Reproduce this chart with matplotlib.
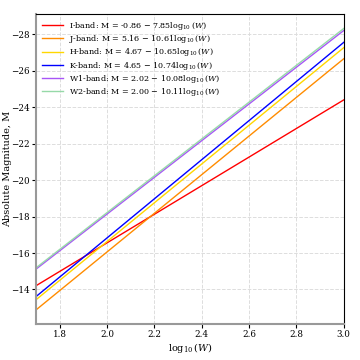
import numpy as np
import matplotlib
matplotlib.use('Agg')
import matplotlib.pyplot as plt

plt.rcParams['font.family'] = 'DejaVu Serif'
plt.rcParams['mathtext.fontset'] = 'dejavuserif'

# 밴드별 회귀식 M = a - b*log10(W)
bands = ['I', 'J', 'H', 'K', 'W1', 'W2']
intercepts = [-0.86, 5.16, 4.67, 4.65, 2.02, 2.00]
slopes = [7.85, 10.61, 10.65, 10.74, 10.08, 10.11]
colors = ['red', 'darkorange', 'gold', 'blue', '#a855f7', '#96d9a8']

logw = np.array([1.7, 3.0])

fig, ax = plt.subplots(figsize=(3.6, 3.6), dpi=100)
for band, a, b, c in zip(bands, intercepts, slopes, colors):
    label = r'%s-band: M = %.2f $-$ %.2f$\log_{10}(W)$' % (band, a, b)
    ax.plot(logw, a - b * logw, color=c, lw=1.0, label=label)

ax.set_xlim(1.7, 3.0)
ax.invert_yaxis()
ax.set_xlabel(r'$\log_{10}(W)$', fontsize=7, labelpad=1)
ax.set_ylabel('Absolute Magnitude, M', fontsize=7)
ax.yaxis.set_label_coords(-0.077, 0.5)
ax.tick_params(labelsize=6.3, pad=1.5, length=3)
ax.grid(True, ls='--', color='#dddddd', lw=0.7)
for s in ['left', 'bottom']:
    ax.spines[s].set_color('#999999')
    ax.spines[s].set_linewidth(1.5)
ax.legend(loc='upper left', fontsize=5.8, handlelength=2.6, labelspacing=0.15,
          frameon=False, borderaxespad=0.3)

plt.subplots_adjust(left=0.1, right=0.955, top=0.96, bottom=0.1)
plt.savefig('out.png')
